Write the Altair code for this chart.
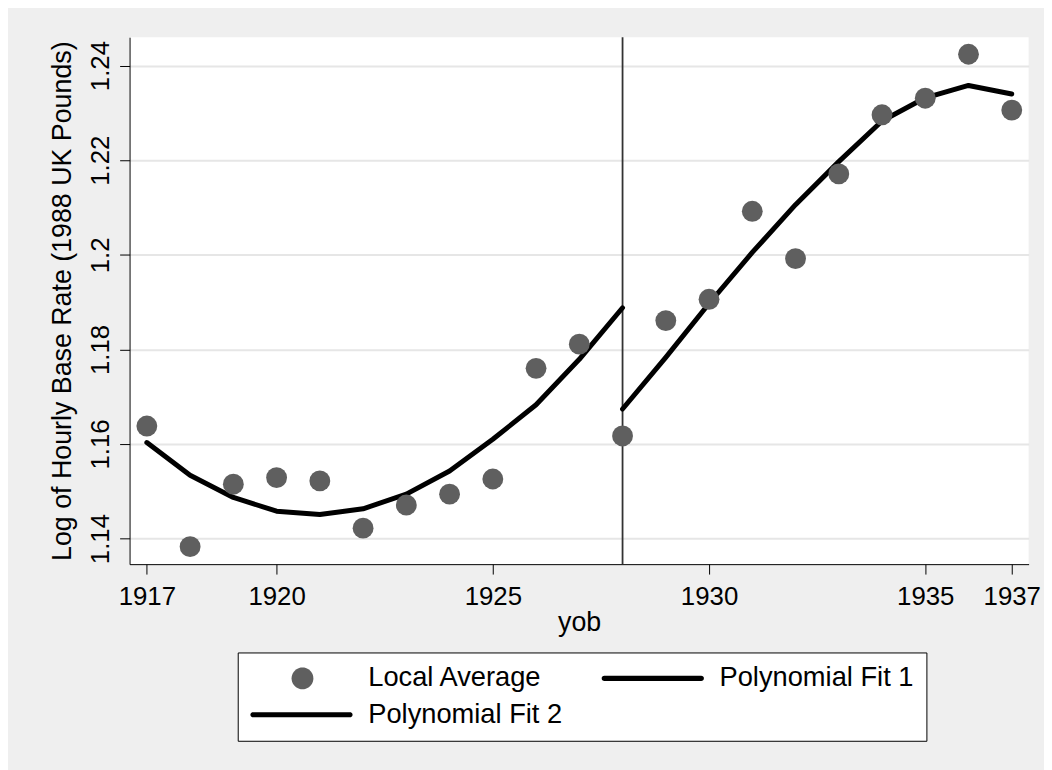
import math
import altair as alt
import pandas as pd

# ---------------- data ----------------
years = list(range(1917, 1938))
local_avg = [1.1638, 1.1383, 1.1515, 1.1529, 1.1522, 1.1422, 1.1471,
             1.1494, 1.1526, 1.1760, 1.1811, 1.1617, 1.1861, 1.1906,
             1.2092, 1.1992, 1.2171, 1.2296, 1.2331, 1.2424, 1.2306]

fit1_years = list(range(1917, 1929))
fit1_vals = [1.1603, 1.1534, 1.1487, 1.1458, 1.1451, 1.1463,
             1.1494, 1.1543, 1.1610, 1.1683, 1.1779, 1.1888]

fit2_years = list(range(1928, 1938))
fit2_vals = [1.1674, 1.1783, 1.1897, 1.2005, 1.2106,
             1.2197, 1.2283, 1.2332, 1.2358, 1.2340]

cutoff_year = [1928]

series_names = ["Local Average", "Polynomial Fit 1", "Polynomial Fit 2"]
x_tick_values = [1917, 1920, 1925, 1930, 1935, 1937]
y_tick_values = [1.14, 1.16, 1.18, 1.20, 1.22, 1.24]

# ---------------- styling ----------------
FONT = "Liberation Sans"
FS_TICK = 26
FS_TITLE = 27
FS_LEG = 27.5
GRAY_PT = "#5f5f5f"
BG = "#efefef"

pts_df = pd.DataFrame({"yob": years, "val": local_avg})
fit_df = pd.DataFrame({
    "yob": fit1_years + fit2_years,
    "val": fit1_vals + fit2_vals,
    "series": [series_names[1]] * len(fit1_vals) + [series_names[2]] * len(fit2_vals),
})
cut_df = pd.DataFrame({"yob": cutoff_year})

# legend symbol shapes (custom paths, unit = 13 px for symbolSize 676)
U = 13.0


def circle_path(cx_px, r_px, n=40):
    p = []
    for i in range(n):
        a = 2 * math.pi * i / n
        p.append(((cx_px + r_px * math.cos(a)) / U, (r_px * math.sin(a)) / U))
    return "M" + "L".join(f"{x:.4f},{y:.4f}" for x, y in p) + "Z"


def stadium_path(x0_px, x1_px, r_px, n=10):
    p = []
    for i in range(n + 1):
        a = -math.pi / 2 + math.pi * i / n
        p.append((x1_px - r_px + r_px * math.cos(a), r_px * math.sin(a)))
    for i in range(n + 1):
        a = math.pi / 2 + math.pi * i / n
        p.append((x0_px + r_px + r_px * math.cos(a), r_px * math.sin(a)))
    return "M" + "L".join(f"{x / U:.4f},{y / U:.4f}" for x, y in p) + "Z"


sym_circle = circle_path(39.5, 11)
sym_line = stadium_path(-13, 90, 2.6)

xscale = alt.Scale(domain=[1916.6, 1937.39], nice=False, zero=False)
yscale = alt.Scale(domain=[1.1346, 1.2460], nice=False, zero=False)

xaxis = alt.Axis(
    values=x_tick_values, format="d", title="yob", grid=False,
    labelFont=FONT, labelFontSize=FS_TICK, labelColor="black",
    labelBaseline="alphabetic", labelPadding=31, labelFlush=False, labelOverlap=False,
    tickSize=10, tickColor="black", domainColor="black", domainWidth=1,
    titleFont=FONT, titleFontSize=FS_TITLE, titleFontWeight="normal", titleColor="black",
    titleBaseline="alphabetic", titleAlign="center", titleX=453, titleY=67,
)
yaxis = alt.Axis(
    values=y_tick_values, format=".2~f",
    title="Log of Hourly Base Rate (1988 UK Pounds)",
    grid=True, gridColor="#e6e6e6", gridWidth=2,
    labelFont=FONT, labelFontSize=FS_TICK, labelColor="black",
    labelAngle=270, labelAlign="center", labelBaseline="alphabetic",
    labelPadding=11, labelFlush=False, labelOverlap=False,
    tickSize=10, tickColor="black", domainColor="black", domainWidth=1,
    titleFont=FONT, titleFontSize=FS_TITLE, titleFontWeight="normal", titleColor="black",
    titleAngle=270, titleAlign="center", titleBaseline="alphabetic",
    titleX=-60, titleY=265.5,
)

X = alt.X("yob:Q", scale=xscale, axis=xaxis)
Y = alt.Y("val:Q", scale=yscale, axis=yaxis)

rule = alt.Chart(cut_df).mark_rule(color="#333333", strokeWidth=1.8).encode(x=X)

lines = alt.Chart(fit_df).mark_line(
    color="black", strokeWidth=5, strokeCap="round", strokeJoin="round"
).encode(x=X, y=Y, detail="series:N")

points = alt.Chart(pts_df).mark_point(
    filled=True, shape="circle", size=441, color=GRAY_PT, opacity=1
).encode(x=X, y=Y)

leg = alt.Legend(
    title=None, orient="none", legendX=109, legendY=620,
    columns=2, direction="horizontal",
    symbolSize=676, symbolStrokeWidth=0, symbolOpacity=1,
    labelFont=FONT, labelFontSize=FS_LEG, labelColor="black", labelLimit=0,
    labelOffset=92, labelBaseline="middle",
    columnPadding=38, rowPadding=8, padding=12,
    fillColor="white", strokeColor="black",
)

legend_layer = alt.Chart(pts_df).transform_filter("false").transform_calculate(
    series="'Local Average'"
).mark_point(filled=True).encode(
    x=X, y=Y,
    fill=alt.Fill("series:N", scale=alt.Scale(domain=series_names,
                                              range=[GRAY_PT, "black", "black"]),
                  legend=leg),
    shape=alt.Shape("series:N", scale=alt.Scale(domain=series_names,
                                                range=[sym_circle, sym_line, sym_line]),
                    legend=leg),
)

chart = alt.layer(rule, lines, points, legend_layer).properties(
    width=906, height=531,
    background=BG,
    padding={"left": 122.5, "top": 26.5, "right": 15.5, "bottom": 204.5},
    autosize=alt.AutoSizeParams(type="none"),
).configure_view(fill="white", stroke=None)

chart.save("out.html", embed_options={"renderer": "svg", "actions": False})
